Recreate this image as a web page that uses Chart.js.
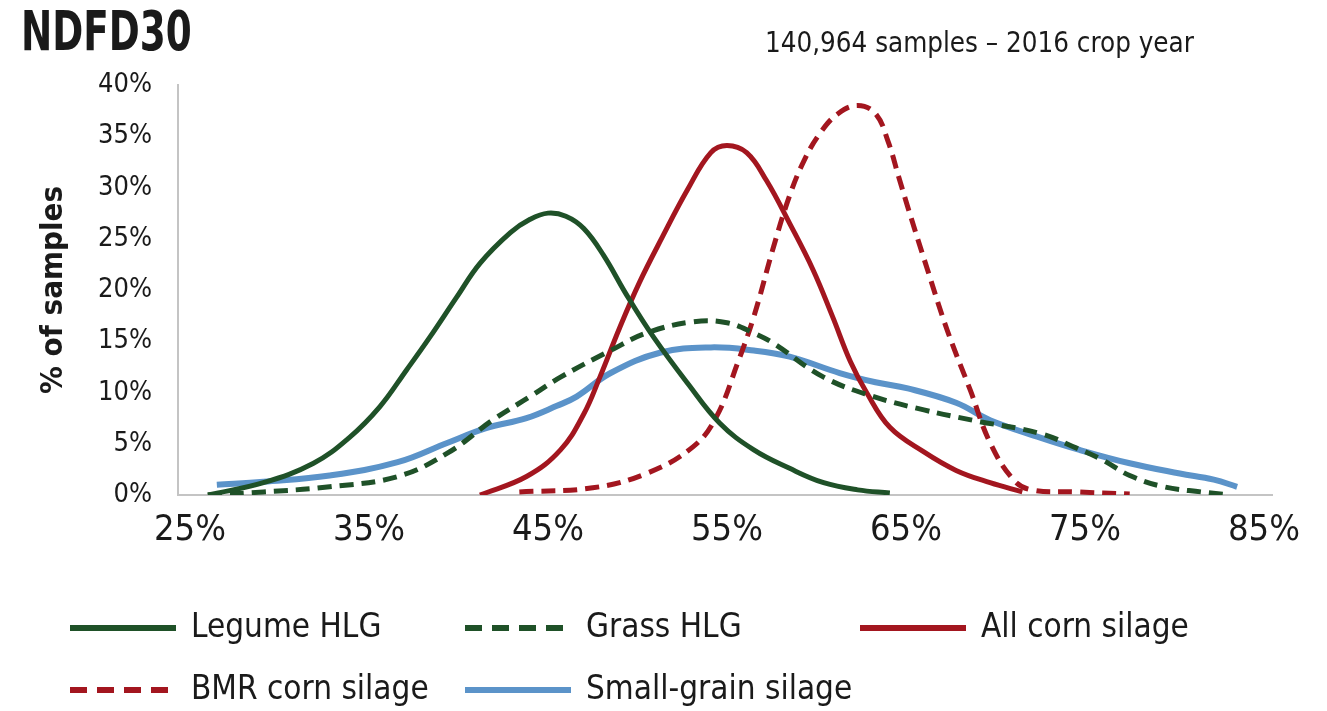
<!DOCTYPE html>
<html>
<head>
<meta charset="utf-8">
<script src="https://cdn.jsdelivr.net/npm/chart.js@4"></script>
<style>
    body { margin: 0; background: #fff; }
    #wrap { width: 1327px; height: 711px; }
</style>
</head>
<body>
<div id="wrap"><canvas id="ndfdChart" width="1327" height="711"></canvas></div>
<script>
// NDFD30 distribution, % of samples by NDFD30 value
const xTicks = [25, 35, 45, 55, 65, 75, 85];

const legumeX = [26.0, 29.1, 31.9, 33.9, 35.6, 37.1, 38.4, 39.9, 41.2, 42.9, 44.0, 45.0, 46.0, 47.0, 48.1, 49.4, 50.9, 52.8, 54.6, 56.5, 58.5, 60.4, 62.3, 64.1];
const legumeY = [0.0, 1.2, 3.1, 5.6, 8.6, 12.2, 15.4, 19.3, 22.6, 25.6, 26.9, 27.5, 27.2, 26.0, 23.4, 19.5, 15.4, 10.9, 7.0, 4.4, 2.6, 1.2, 0.5, 0.2];

const grassX = [26.0, 29.1, 32.8, 36.6, 39.4, 41.9, 44.0, 45.7, 48.5, 50.5, 53.1, 55.0, 56.5, 57.6, 60.4, 63.2, 66.0, 68.7, 72.5, 74.5, 76.0, 77.5, 79.4, 81.5, 83.1];
const grassY = [0.0, 0.3, 0.8, 1.8, 4.1, 7.3, 9.6, 11.5, 14.1, 15.8, 16.9, 16.8, 15.8, 14.8, 11.5, 9.6, 8.3, 7.3, 6.0, 4.6, 3.4, 1.9, 0.8, 0.3, 0.0];

const cornX = [41.2, 43.8, 45.7, 47.0, 47.9, 49.0, 50.1, 51.4, 52.8, 54.1, 55.0, 56.1, 57.2, 58.5, 59.8, 60.9, 61.9, 62.8, 64.1, 66.0, 67.8, 69.7, 71.5];
const cornY = [0.0, 1.8, 4.4, 7.9, 11.5, 16.3, 20.7, 25.2, 29.8, 33.4, 34.1, 33.4, 30.7, 26.5, 22.0, 17.4, 13.0, 10.0, 6.6, 4.2, 2.4, 1.2, 0.3];

const bmrX = [43.4, 47.5, 50.5, 53.1, 54.4, 55.6, 56.5, 57.6, 58.5, 59.3, 60.2, 61.2, 62.3, 63.3, 64.0, 64.6, 65.1, 66.2, 67.3, 68.6, 69.7, 71.0, 72.0, 74.5, 77.5];
const bmrY = [0.3, 0.7, 2.1, 4.7, 7.6, 12.9, 17.4, 24.2, 29.2, 32.6, 35.3, 37.2, 38.0, 37.2, 34.5, 31.0, 28.1, 22.0, 16.1, 10.2, 5.1, 1.5, 0.5, 0.3, 0.1];

const grainX = [26.5, 29.1, 32.8, 36.6, 39.4, 41.5, 43.8, 45.5, 46.6, 48.5, 51.3, 54.1, 56.5, 58.5, 61.3, 63.3, 65.1, 67.8, 69.7, 72.5, 74.7, 77.5, 80.3, 82.2, 83.5];
const grainY = [1.0, 1.3, 1.9, 3.2, 5.1, 6.5, 7.5, 8.7, 9.6, 11.9, 13.9, 14.4, 14.1, 13.5, 11.9, 11.0, 10.4, 9.0, 7.3, 5.6, 4.4, 3.1, 2.1, 1.5, 0.8];

const FONT = '"DejaVu Sans Condensed", "Liberation Sans Narrow", sans-serif';
const TEXT = '#1a1a1a';
const GREEN = '#1f5128';
const RED = '#a3161f';
const BLUE = '#5b93c9';

Chart.defaults.font.family = FONT;

function toPoints(xs, ys) {
    return xs.map(function (x, i) { return { x: x, y: ys[i] }; });
}

function series(label, xs, ys, color, dashed, width) {
    return {
        label: label,
        data: toPoints(xs, ys),
        borderColor: color,
        backgroundColor: color,
        borderWidth: width,
        borderDash: dashed ? [14, 8] : [],
        showLine: true,
        pointRadius: 0,
        pointHoverRadius: 0,
        fill: false,
        tension: 0.4
    };
}

// title, subtitle and the two-row legend drawn onto the canvas
const decorations = {
    id: 'decorations',
    afterDraw(chart) {
        const ctx = chart.ctx;
        ctx.save();
        ctx.fillStyle = TEXT;
        ctx.textBaseline = 'alphabetic';
        // the reference title is a tall condensed face, so squeeze it horizontally
        ctx.save();
        ctx.translate(21, 50);
        ctx.scale(0.755, 1);
        ctx.font = 'bold 55px ' + FONT;
        ctx.fillText('NDFD30', 0, 0);
        ctx.restore();

        ctx.font = '27.5px ' + FONT;
        ctx.fillText('140,964 samples \u2013 2016 crop year', 765, 52);

        const slots = [[70, 628], [465, 628], [860, 628], [70, 690], [465, 690]];
        chart.data.datasets.forEach(function (ds, i) {
            const s = slots[i];
            ctx.strokeStyle = ds.borderColor;
            ctx.lineWidth = 6;
            ctx.setLineDash(ds.borderDash.length ? [17, 10] : []);
            ctx.beginPath();
            ctx.moveTo(s[0], s[1]);
            ctx.lineTo(s[0] + 106, s[1]);
            ctx.stroke();
            ctx.setLineDash([]);
            ctx.fillStyle = TEXT;
            ctx.font = '33px ' + FONT;
            ctx.textBaseline = 'middle';
            ctx.fillText(ds.label, s[0] + 121, s[1]);
        });
        ctx.restore();
    }
};

new Chart(document.getElementById('ndfdChart'), {
    type: 'scatter',
    data: {
        datasets: [
            series('Legume HLG', legumeX, legumeY, GREEN, false, 5),
            series('Grass HLG', grassX, grassY, GREEN, true, 5),
            series('All corn silage', cornX, cornY, RED, false, 5),
            series('BMR corn silage', bmrX, bmrY, RED, true, 5),
            series('Small-grain silage', grainX, grainY, BLUE, false, 6)
        ]
    },
    options: {
        responsive: false,
        animation: false,
        layout: { padding: { top: 85, right: 55, bottom: 156, left: 0 } },
        plugins: {
            legend: { display: false },
            tooltip: { enabled: false }
        },
        scales: {
            x: {
                type: 'linear',
                min: 24.33,
                max: 85.45,
                afterBuildTicks: function (scale) {
                    scale.ticks = xTicks.map(function (v) { return { value: v }; });
                },
                afterFit: function (scale) { scale.height = 60; },
                grid: { display: false, drawTicks: false },
                border: { display: true, color: '#c4c4c4', width: 2 },
                ticks: {
                    color: TEXT,
                    padding: 14,
                    maxRotation: 0,
                    font: { size: 36 },
                    callback: function (v) { return v + '%'; }
                }
            },
            y: {
                min: 0,
                max: 40,
                afterFit: function (scale) { scale.width = 178; },
                grid: { display: false, drawTicks: false },
                border: { display: true, color: '#c4c4c4', width: 2 },
                ticks: {
                    stepSize: 5,
                    color: TEXT,
                    padding: 26,
                    font: { size: 27 },
                    callback: function (v) { return v + '%'; }
                },
                title: {
                    display: true,
                    text: '% of samples',
                    color: TEXT,
                    font: { size: 31, weight: 'bold' },
                    padding: { top: 35, bottom: 0 }
                }
            }
        }
    },
    plugins: [decorations]
});
</script>
</body>
</html>
